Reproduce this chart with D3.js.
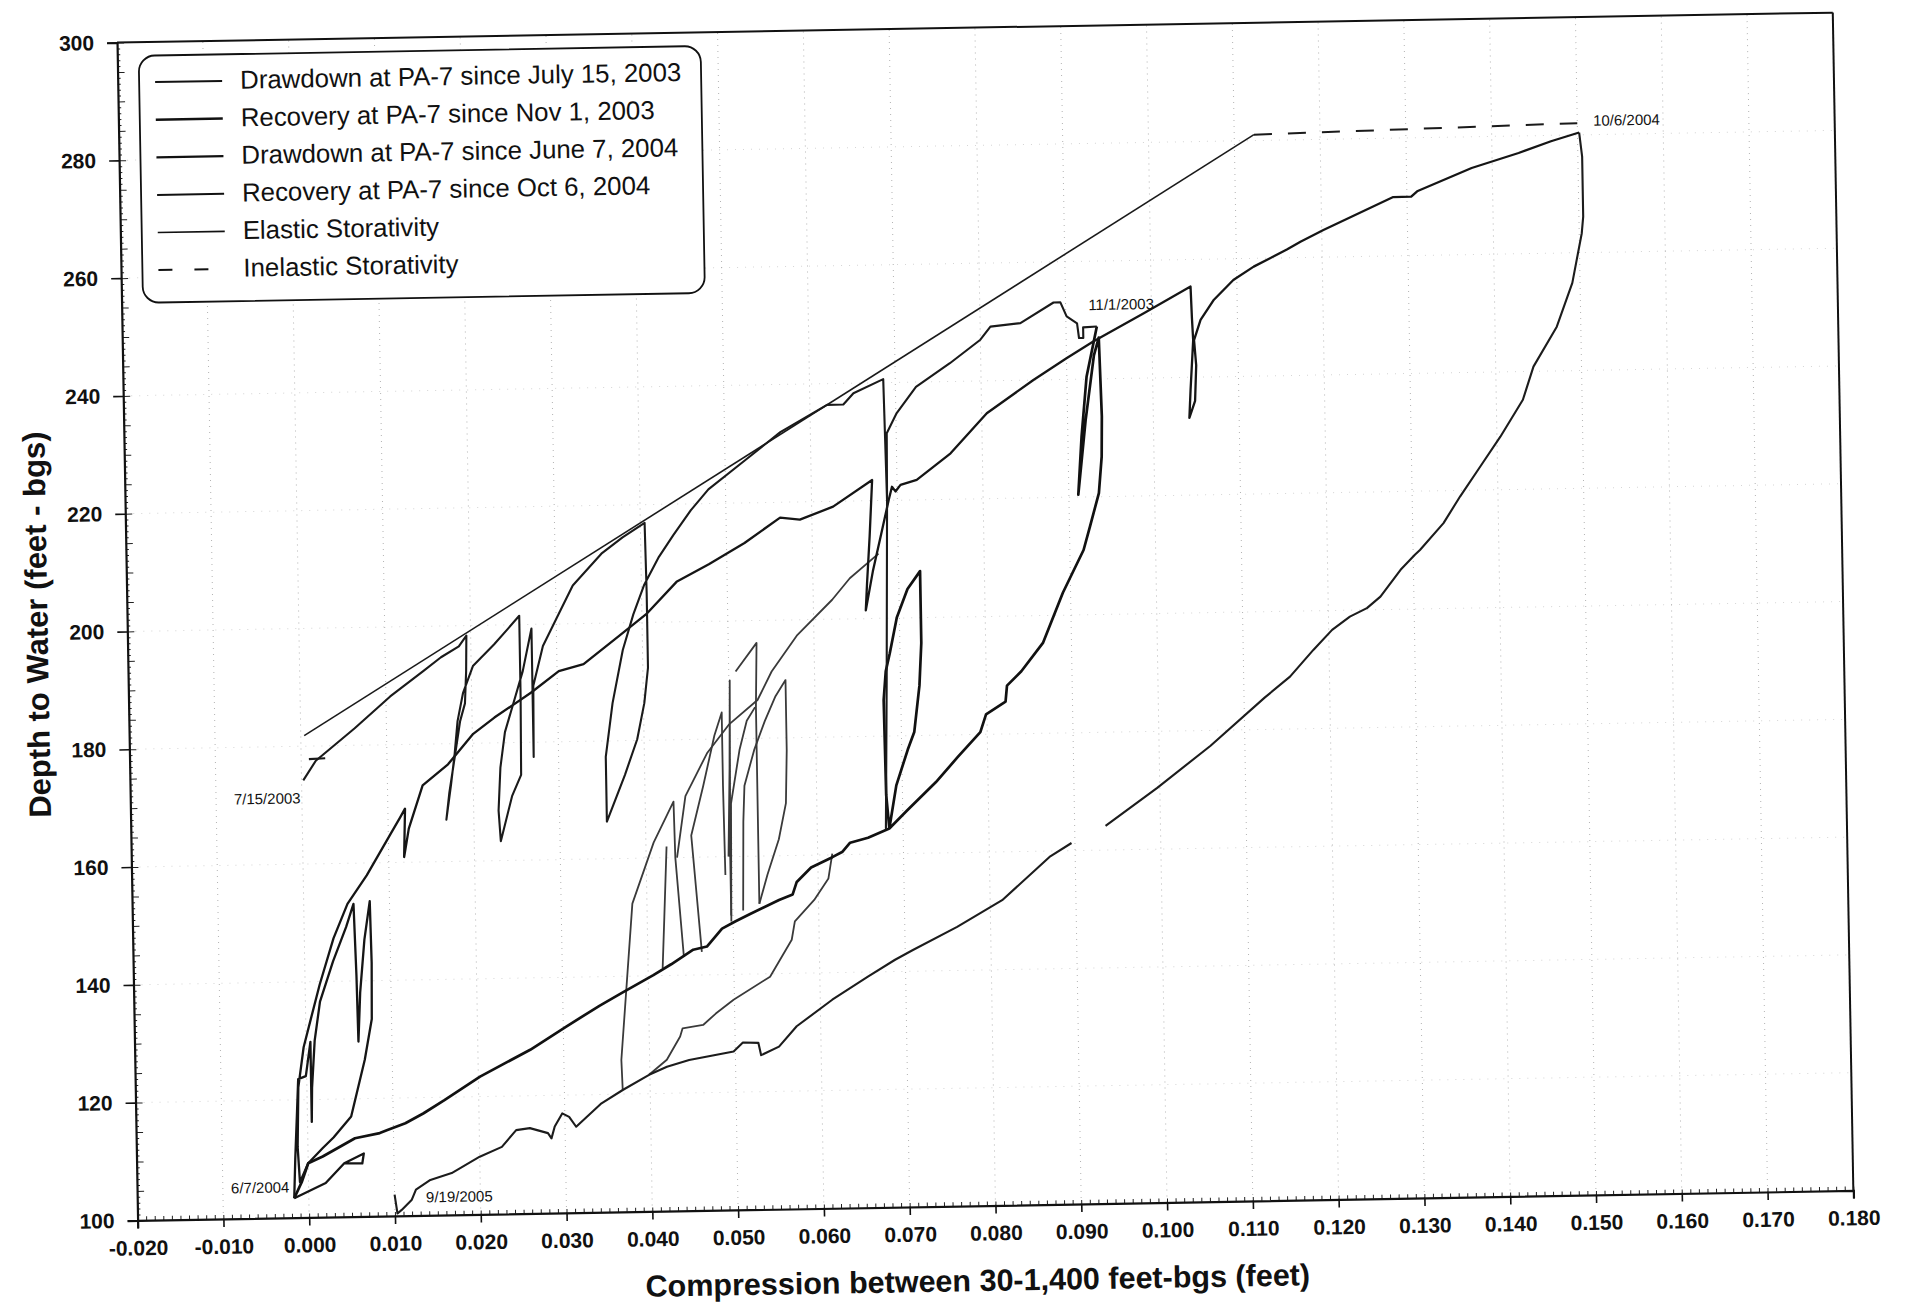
<!DOCTYPE html>
<html>
<head>
<meta charset="utf-8">
<script src="https://cdn.jsdelivr.net/npm/d3@7"></script>
<style>
  body { margin: 0; background: #fff; }
  svg { display: block; }
  text { font-family: "Liberation Sans", Arial, sans-serif; }
</style>
</head>
<body>
<svg id="chart"></svg>
<script>
// axis ticks
const xTickValues = [-0.02, -0.01, 0, 0.01, 0.02, 0.03, 0.04, 0.05, 0.06, 0.07, 0.08, 0.09,
  0.10, 0.11, 0.12, 0.13, 0.14, 0.15, 0.16, 0.17, 0.18];
const yTickValues = [100, 120, 140, 160, 180, 200, 220, 240, 260, 280, 300];

// storativity lines
const elastic = [[0.0004, 181.8], [0.1123, 281.0]];
const inelastic = [[0.1123, 281.0], [0.1500, 282.0]];

// Drawdown at PA-7 since July 15, 2003
const drawdown2003 = [
  [[0.0002,174.2],[0.0017,177.5],[0.0063,182.9],[0.0105,188.2],[0.0144,192.4],[0.0165,194.7],[0.0186,196.5],[0.0195,198.3],
   [0.0194,192.2],[0.0192,186.8],[0.0186,183.8],[0.0179,177.7],[0.0172,171.7],[0.0168,167.1],[0.0174,172.9],[0.0179,178.3],
   [0.0183,183.8],[0.0190,188.6],[0.0202,193.1],[0.0227,196.7],[0.0244,199.4],[0.0257,201.5],[0.0257,188.0],[0.0256,174.5],
   [0.0245,170.9],[0.0231,163.3],[0.0229,168.5],[0.0232,175.8],[0.0238,181.8],[0.0247,186.0],[0.0260,192.1],[0.0271,199.3],
   [0.0271,188.0],[0.0271,177.5],[0.0272,189.6],[0.0284,196.3],[0.0303,201.7],[0.0320,206.5],[0.0354,211.8],[0.0379,214.5],
   [0.0405,216.9],[0.0406,205.0],[0.0406,192.3],[0.0401,186.3],[0.0392,180.2],[0.0377,174.2],[0.0355,166.3],[0.0355,177.3],
   [0.0364,186.4],[0.0377,195.4],[0.0390,201.4],[0.0403,206.3],[0.0421,211.1],[0.0438,214.7],[0.0459,218.9],[0.0480,222.4],
   [0.0523,227.2],[0.0565,231.9],[0.0620,236.4],[0.0639,236.4],[0.0651,238.3],[0.0686,240.6],[0.0688,220.0],[0.0684,190.0],
   [0.0680,164.3],[0.0684,190.0],[0.0688,220.0],[0.0689,231.4],[0.0701,234.8],[0.0724,239.2],[0.0764,243.1],[0.0800,247.0],
   [0.0812,249.2],[0.0847,249.7],[0.0886,253.1],[0.0894,253.1],[0.0901,250.7],[0.0913,249.5],[0.0915,247.0],[0.0920,247.0],
   [0.0920,248.8],[0.0936,248.9]],
  [[0.0009,177.8],[0.0028,177.9]]
];

// Recovery at PA-7 since Nov 1, 2003
const recovery2003 = [
  [[0.0936,248.9],[0.0923,240.4],[0.0916,230.3],[0.0911,220.4],[0.0921,233.0],[0.0932,244.0],[0.0938,247.0],[0.0940,233.6],
   [0.0939,226.8],[0.0935,220.6],[0.0924,215.0],[0.0916,211.0],[0.0891,203.8],[0.0867,195.4],[0.0841,190.6],[0.0824,188.2],
   [0.0822,185.5],[0.0799,183.4],[0.0792,180.4],[0.0765,176.2],[0.0739,172.0],[0.0705,167.3],[0.0684,164.3],
   [0.0693,171.6],[0.0707,177.6],[0.0715,180.6],[0.0722,188.5],[0.0725,195.7],[0.0725,207.9],[0.0710,204.9],[0.0697,200.1],
   [0.0688,194.0],[0.0683,191.0],[0.0680,186.1],[0.0681,170.0],[0.0684,164.3],
   [0.0659,162.8],[0.0638,162.0],[0.0629,160.5],[0.0617,159.6],[0.0592,157.9],[0.0575,155.5],[0.0570,153.4],[0.0554,152.5],
   [0.0520,150.2],[0.0503,149.0],[0.0487,147.8],[0.0469,144.8],[0.0453,144.3],[0.0427,141.9],[0.0406,140.1],[0.0369,137.2],
   [0.0343,135.1],[0.0303,131.6],[0.0261,127.8],[0.0202,123.4],[0.0160,119.5],[0.0135,117.3],[0.0114,115.7],[0.0093,114.6],
   [0.0084,114.1],[0.0055,113.3],[0.0017,110.3],[0.0000,109.2],[-0.0008,106.0],[-0.0017,103.3]]
];

// Drawdown at PA-7 since June 7, 2004
const drawdown2004 = [
  [[-0.0017,103.3],[0.0020,105.8],[0.0042,109.1],[0.0065,110.7],[0.0063,109.0],[0.0042,109.1]],
  [[-0.0017,103.3],[-0.0015,110.0],[-0.0012,118.0],[-0.0010,123.5],[-0.0001,124.0],[0.0005,129.8],[0.0005,116.2],[0.0006,122.0],
   [0.0010,130.0],[0.0017,136.6],[0.0033,143.4],[0.0049,149.2],[0.0058,153.1],[0.0060,141.0],[0.0061,129.7],[0.0064,138.0],
   [0.0070,147.0],[0.0077,153.5],[0.0078,143.0],[0.0077,133.5],[0.0068,126.6],[0.0051,117.0],[0.0030,113.5],[0.0017,111.7],
   [0.0000,109.2],[-0.0010,106.0],[-0.0012,112.0],[-0.0010,122.1],[-0.0003,128.9],[0.0006,133.7],[0.0017,139.5],[0.0034,147.3],
   [0.0051,153.1],[0.0074,157.9],[0.0102,164.7],[0.0114,167.6],[0.0120,169.1],[0.0118,160.9],[0.0124,165.7],[0.0141,173.0],
   [0.0171,176.5],[0.0201,181.6],[0.0226,184.3],[0.0269,188.4],[0.0302,192.0],[0.0331,193.1],[0.0373,197.8],[0.0405,201.4],
   [0.0441,206.8],[0.0479,209.7],[0.0521,213.2],[0.0563,217.4],[0.0586,217.0],[0.0625,219.1],[0.0671,223.5],
   [0.0667,214.0],[0.0663,206.0],[0.0661,201.4],[0.0670,208.0],[0.0680,214.0],[0.0690,220.1],
   [0.0694,222.3],[0.0698,221.5],[0.0704,222.6],[0.0723,223.4],[0.0763,227.8],[0.0806,234.5],[0.0861,240.0],[0.0900,243.6],
   [0.0932,246.4],[0.0991,251.0],[0.1046,255.4],[0.1047,250.0],[0.1048,246.3],[0.1044,238.0],[0.1042,233.1],[0.1049,236.0],
   [0.1051,242.0],[0.1049,246.3],[0.1057,249.7],[0.1073,253.1],[0.1096,256.4],[0.1120,258.6],[0.1159,261.4],[0.1175,262.7],
   [0.1202,264.6],[0.1284,270.0],[0.1305,270.0],[0.1312,270.9],[0.1376,274.7],[0.1431,277.1],[0.1469,279.0],[0.1502,280.4]]
];

// Recovery at PA-7 since Oct 6, 2004
const recovery2004 = [
  [[0.1502,280.4],[0.1505,276.3],[0.1505,266.1],[0.1503,263.3],[0.1491,254.9],[0.1472,247.5],[0.1444,240.8],[0.1431,235.2],
   [0.1404,229.0],[0.1380,224.0],[0.1356,219.0],[0.1336,214.5],[0.1308,210.0],[0.1302,209.2],[0.1285,206.7],[0.1261,202.2],
   [0.1245,200.3],[0.1225,198.9],[0.1204,196.7],[0.1182,193.4],[0.1154,188.9],[0.1124,185.4],[0.1060,177.4],[0.0997,170.4],
   [0.0936,164.1]],
  [[0.0896,161.3],[0.0871,159.1],[0.0814,151.8],[0.0761,147.4],[0.0709,143.6],[0.0688,142.0],[0.0656,139.2],[0.0614,135.4],
   [0.0572,131.0],[0.0551,127.6],[0.0530,126.2],[0.0527,128.3],[0.0509,128.4],[0.0498,126.9],[0.0446,125.6],[0.0420,124.5],
   [0.0399,123.2],[0.0368,120.7],[0.0343,118.5],[0.0313,114.6],[0.0305,116.3],[0.0297,116.9],[0.0288,114.7],[0.0284,112.7],
   [0.0280,113.6],[0.0259,114.5],[0.0243,114.2],[0.0226,111.4],[0.0200,109.8],[0.0167,107.1],[0.0142,106.0],[0.0125,104.4],
   [0.0120,102.7],[0.0108,101.0],[0.0103,100.4],[0.0100,103.6]]
];

// pumping loops during the 2004-2005 recovery
const recoveryLoops = [
  [[0.0368,120.7],[0.0367,125.8],[0.0383,152.3],[0.0409,162.6],[0.0433,169.5],[0.0434,160.0],[0.0442,143.1]],
  [[0.0424,161.9],[0.0420,150.0],[0.0417,141.3]],
  [[0.0399,123.2],[0.0420,125.7],[0.0436,129.6],[0.0439,131.0],[0.0463,131.5],[0.0478,133.4],[0.0499,135.7],[0.0542,139.5],
   [0.0568,145.7],[0.0572,148.8],[0.0595,152.4],[0.0612,156.0],[0.0617,160.2]],
  [[0.0436,160.0],[0.0447,170.4],[0.0473,177.6],[0.0499,182.4],[0.0533,186.5],[0.0550,191.3],[0.0580,197.3],[0.0622,203.3],
   [0.0643,206.9],[0.0677,211.0]],
  [[0.0463,143.9],[0.0453,163.7],[0.0468,172.1],[0.0482,180.6],[0.0491,184.5],[0.0491,172.1],[0.0492,156.9]],
  [[0.0496,160.0],[0.0499,175.0],[0.0501,189.9],[0.0500,180.0],[0.0498,160.0],[0.0498,150.0]],
  [[0.0508,191.4],[0.0533,196.2],[0.0531,185.3],[0.0531,151.9]],
  [[0.0512,150.8],[0.0514,165.9],[0.0516,172.0],[0.0528,178.0],[0.0541,182.9],[0.0554,187.1],[0.0566,189.8],[0.0566,177.9],
   [0.0564,168.9],[0.0555,162.8],[0.0541,156.8],[0.0531,151.9]],
  [[0.0498,149.0],[0.0500,169.0],[0.0511,178.1],[0.0520,183.0],[0.0530,185.3]]
];

// point labels
const dateLabels = [
  { text: "7/15/2003", x: 0.0002, y: 170.3, anchor: "end" },
  { text: "6/7/2004", x: -0.0019, y: 104.3, anchor: "end" },
  { text: "9/19/2005", x: 0.0133, y: 102.2, anchor: "start" },
  { text: "11/1/2003", x: 0.0923, y: 251.7, anchor: "start" },
  { text: "10/6/2004", x: 0.1515, y: 281.5, anchor: "start" }
];

const legendItems = [
  { name: "Drawdown at PA-7 since July 15, 2003", width: 2, dash: null },
  { name: "Recovery at PA-7 since Nov 1, 2003", width: 2.6, dash: null },
  { name: "Drawdown at PA-7 since June 7, 2004", width: 2.2, dash: null },
  { name: "Recovery at PA-7 since Oct 6, 2004", width: 2, dash: null },
  { name: "Elastic Storativity", width: 1.6, dash: null },
  { name: "Inelastic Storativity", width: 2, dash: "18,16" }
];

const width = 1910, height = 1302;
const marginLeft = 137.6, marginTop = 42.4, plotW = 1716, plotH = 1178;
const tilt = -1.0;  // the scanned page is slightly rotated

const svg = d3.select("#chart").attr("width", width).attr("height", height);
svg.append("rect").attr("width", width).attr("height", height).attr("fill", "#fff");

const g = svg.append("g")
  .attr("transform", `rotate(${tilt}, ${marginLeft}, ${marginTop + plotH})`);

const x = d3.scaleLinear([-0.02, 0.18], [marginLeft, marginLeft + plotW]);
const y = d3.scaleLinear([100, 300], [marginTop + plotH, marginTop]);

// gridlines
g.append("g")
  .selectAll("line")
  .data(xTickValues.slice(1, -1))
  .join("line")
  .attr("x1", d => x(d)).attr("x2", d => x(d))
  .attr("y1", y(100)).attr("y2", y(300))
  .attr("stroke", "#777").attr("stroke-width", 1)
  .attr("stroke-dasharray", "1,5").attr("opacity", 0.55);

g.append("g")
  .selectAll("line")
  .data(yTickValues.slice(1, -1))
  .join("line")
  .attr("x1", x(-0.02)).attr("x2", x(0.18))
  .attr("y1", d => y(d)).attr("y2", d => y(d))
  .attr("stroke", "#888").attr("stroke-width", 1)
  .attr("stroke-dasharray", "1,7").attr("opacity", 0.35);

// frame
g.append("line")
  .attr("x1", x(-0.02)).attr("x2", x(0.18)).attr("y1", y(300)).attr("y2", y(300))
  .attr("stroke", "#111").attr("stroke-width", 2);
g.append("line")
  .attr("x1", x(0.18)).attr("x2", x(0.18)).attr("y1", y(300)).attr("y2", y(100))
  .attr("stroke", "#111").attr("stroke-width", 2);

// minor ticks
const xMinor = d3.range(-20, 181).map(i => i / 1000);
g.append("g")
  .attr("transform", `translate(0, ${y(100)})`)
  .call(d3.axisBottom(x).tickValues(xMinor).tickSize(-4).tickFormat(""))
  .call(s => s.select(".domain").remove())
  .call(s => s.selectAll("line").attr("stroke", "#222"));

const yMinor = d3.range(100, 301);
g.append("g")
  .attr("transform", `translate(${x(-0.02)}, 0)`)
  .call(d3.axisLeft(y).tickValues(yMinor).tickSize(0).tickFormat(""))
  .call(s => s.select(".domain").remove())
  .call(s => s.selectAll(".tick line").attr("x2", d => d % 5 === 0 ? 7 : 3).attr("stroke", "#222"));

// main axes
const fmtX = v => d3.format(".3f")(v).replace("\u2212", "-");
g.append("g")
  .attr("transform", `translate(0, ${y(100)})`)
  .call(d3.axisBottom(x).tickValues(xTickValues).tickSize(8).tickPadding(12).tickFormat(fmtX))
  .call(s => s.select(".domain").attr("stroke", "#111").attr("stroke-width", 2.2))
  .call(s => s.selectAll(".tick line").attr("stroke", "#111").attr("stroke-width", 1.6))
  .call(s => s.selectAll("text").attr("fill", "#111")
    .style("font-size", "21px").style("font-weight", "bold"));

g.append("g")
  .attr("transform", `translate(${x(-0.02)}, 0)`)
  .call(d3.axisLeft(y).tickValues(yTickValues).tickSize(10).tickPadding(13).tickFormat(d3.format("d")))
  .call(s => s.select(".domain").attr("stroke", "#111").attr("stroke-width", 2.2))
  .call(s => s.selectAll(".tick line").attr("stroke", "#111").attr("stroke-width", 1.6))
  .call(s => s.selectAll("text").attr("fill", "#111")
    .style("font-size", "21px").style("font-weight", "bold"));

// axis titles
g.append("text")
  .attr("transform", `translate(58, 623) rotate(-90)`)
  .attr("text-anchor", "middle")
  .style("font-size", "31px").style("font-weight", "bold").attr("fill", "#111")
  .text("Depth to Water (feet - bgs)");

// x title sits outside the tilted group so it stays inside the page
svg.append("text")
  .attr("transform", `translate(978, 1291) rotate(${tilt})`)
  .attr("text-anchor", "middle")
  .style("font-size", "30.5px").style("font-weight", "bold").attr("fill", "#111")
  .text("Compression between 30-1,400 feet-bgs (feet)");

// series
const line = d3.line().x(d => x(d[0])).y(d => y(d[1]));

function drawSeries(segments, color, w, dash) {
  g.append("g")
    .selectAll("path")
    .data(segments)
    .join("path")
    .attr("d", line)
    .attr("fill", "none")
    .attr("stroke", color)
    .attr("stroke-width", w)
    .attr("stroke-linejoin", "round")
    .attr("stroke-dasharray", dash);
}

drawSeries([elastic], "#1a1a1a", 1.6, null);
drawSeries([inelastic], "#1a1a1a", 2, "18,16");
drawSeries(recoveryLoops, "#3a3a3a", 1.8, null);
drawSeries(recovery2004, "#1c1c1c", 2.1, null);
drawSeries(recovery2003, "#111", 2.7, null);
drawSeries(drawdown2004, "#151515", 2.3, null);
drawSeries(drawdown2003, "#1a1a1a", 2.1, null);

// date labels
g.append("g")
  .selectAll("text")
  .data(dateLabels)
  .join("text")
  .attr("x", d => x(d.x) + (d.anchor === "end" ? -3 : 3))
  .attr("y", d => y(d.y))
  .attr("text-anchor", d => d.anchor)
  .style("font-size", "15px").attr("fill", "#111")
  .text(d => d.text);

// legend
const legend = g.append("g");
legend.append("rect")
  .attr("x", 159).attr("y", 56).attr("width", 562).attr("height", 247)
  .attr("rx", 16).attr("ry", 16)
  .attr("fill", "#fff").attr("stroke", "#111").attr("stroke-width", 1.8);

const rows = legend.selectAll("g.row")
  .data(legendItems)
  .join("g")
  .attr("class", "row")
  .attr("transform", (d, i) => `translate(0, ${90.6 + i * 37.6})`);

rows.append("line")
  .attr("x1", 175).attr("x2", 242).attr("y1", -8).attr("y2", -8)
  .attr("stroke", "#111")
  .attr("stroke-width", d => d.width)
  .attr("stroke-dasharray", d => d.dash ? "14,22" : null);

rows.append("text")
  .attr("x", 260).attr("y", 0)
  .style("font-size", "25.8px").attr("fill", "#111")
  .text(d => d.name);
</script>
</body>
</html>
